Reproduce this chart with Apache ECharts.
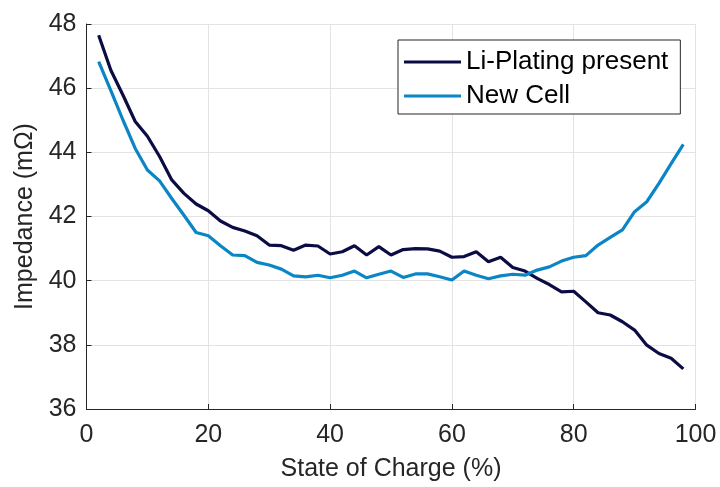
<!DOCTYPE html>
<html>
<head>
<meta charset="utf-8">
<script src="https://cdn.jsdelivr.net/npm/echarts@6/dist/echarts.min.js"></script>
<style>
  html, body { margin: 0; padding: 0; background: #fff; }
  #main { width: 720px; height: 487px; }
</style>
</head>
<body>
<div id="main"></div>
<script>
  // 荷电状态 (%)
  var soc = [2, 4, 6, 8, 10, 12, 14, 16, 18, 20, 22, 24, 26, 28, 30, 32, 34, 36, 38, 40,
             42, 44, 46, 48, 50, 52, 54, 56, 58, 60, 62, 64, 66, 68, 70, 72, 74, 76, 78, 80,
             82, 84, 86, 88, 90, 92, 94, 96, 98];
  // 析锂电芯阻抗 (mΩ)
  var liPlating = [47.65, 46.56, 45.78, 44.96, 44.50, 43.87, 43.14, 42.72, 42.39, 42.18,
                   41.86, 41.66, 41.55, 41.40, 41.11, 41.09, 40.95, 41.11, 41.08, 40.83,
                   40.90, 41.09, 40.80, 41.06, 40.80, 40.97, 41.00, 40.99, 40.92, 40.73,
                   40.75, 40.90, 40.59, 40.73, 40.41, 40.30, 40.07, 39.88, 39.65, 39.67,
                   39.34, 39.00, 38.93, 38.72, 38.46, 37.99, 37.73, 37.58, 37.25];
  // 新电芯阻抗 (mΩ)
  var newCell = [46.83, 45.92, 45.00, 44.12, 43.45, 43.11, 42.56, 42.04, 41.50, 41.40,
                 41.09, 40.80, 40.78, 40.57, 40.49, 40.36, 40.15, 40.12, 40.17, 40.09,
                 40.17, 40.30, 40.09, 40.20, 40.30, 40.10, 40.21, 40.21, 40.12, 40.02,
                 40.30, 40.17, 40.06, 40.15, 40.20, 40.17, 40.33, 40.43, 40.61, 40.73,
                 40.78, 41.11, 41.35, 41.58, 42.15, 42.46, 43.03, 43.65, 44.25];
  var seriesNames = ['Li-Plating present', 'New Cell'];
  var seriesColors = ['#0c0c44', '#0a85c5'];

  function pairs(ys) {
      return soc.map(function (x, i) { return [x, ys[i]]; });
  }

  var myChart = echarts.init(document.getElementById('main'));
  var textColor = '#262626';
  var fontFamily = '"Liberation Sans", Arial, sans-serif';

  var option = {
      animation: false,
      backgroundColor: '#fff',
      textStyle: { fontFamily: fontFamily, color: textColor },
      grid: { left: 86.5, right: 24.5, top: 24, bottom: 78 },
      legend: {
          data: seriesNames,
          orient: 'vertical',
          left: 398,
          top: 40,
          align: 'left',
          icon: 'rect',
          itemWidth: 57,
          itemHeight: 3,
          itemGap: 8,
          padding: [9, 12, 5, 6],
          borderColor: textColor,
          borderWidth: 1,
          backgroundColor: '#fff',
          textStyle: { fontSize: 26, color: '#000', fontFamily: fontFamily }
      },
      xAxis: {
          type: 'value',
          min: 0,
          max: 100,
          interval: 20,
          name: 'State of Charge (%)',
          nameLocation: 'middle',
          nameGap: 48,
          nameTextStyle: { fontSize: 25, color: textColor },
          axisLine: { lineStyle: { color: textColor, width: 1 } },
          axisTick: { inside: true, length: 5, lineStyle: { color: textColor } },
          axisLabel: { fontSize: 25, color: textColor, margin: 14 },
          splitLine: { show: true, lineStyle: { color: '#e3e3e3', width: 1 } }
      },
      yAxis: {
          type: 'value',
          min: 36,
          max: 48,
          interval: 2,
          name: 'Impedance (mΩ)',
          nameLocation: 'middle',
          nameGap: 48,
          nameTextStyle: { fontSize: 25, color: textColor },
          axisLine: { show: true, lineStyle: { color: textColor, width: 1 } },
          axisTick: { show: true, inside: true, length: 5, lineStyle: { color: textColor } },
          axisLabel: { fontSize: 25, color: textColor, margin: 10 },
          splitLine: { show: true, lineStyle: { color: '#e3e3e3', width: 1 } }
      },
      series: [{
              name: seriesNames[0],
              type: 'line',
              data: pairs(liPlating),
              showSymbol: false,
              color: seriesColors[0],
              lineStyle: { color: seriesColors[0], width: 3.2 }
          },
          {
              name: seriesNames[1],
              type: 'line',
              data: pairs(newCell),
              showSymbol: false,
              color: seriesColors[1],
              lineStyle: { color: seriesColors[1], width: 3.2 }
          }
      ]
  };

  myChart.setOption(option);
</script>
</body>
</html>
